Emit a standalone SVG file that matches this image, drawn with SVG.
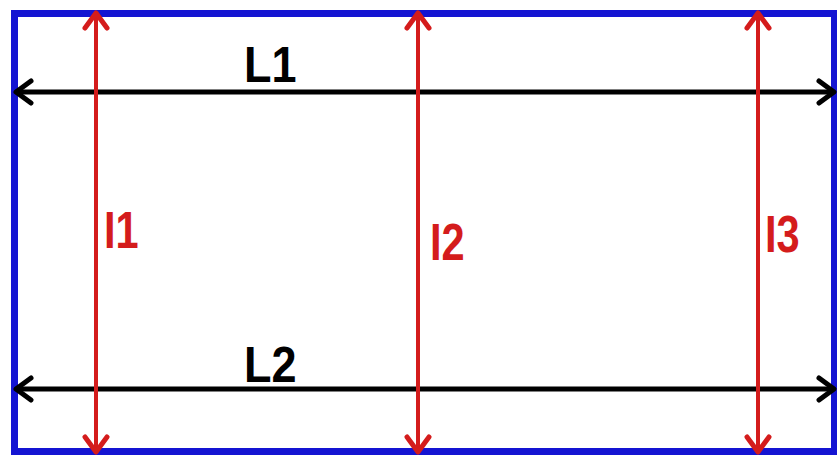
<svg xmlns="http://www.w3.org/2000/svg" width="837" height="455" viewBox="0 0 837 455">
<style>
.lab{font-family:"Liberation Sans",Arial,sans-serif;font-weight:bold}
.red{stroke:#d41c1c;stroke-width:4;fill:none}
.blk{stroke:#000;stroke-width:5;fill:none}
</style>
<defs>
<marker id="ar" viewBox="0 0 22 28" refX="19" refY="14" markerWidth="22" markerHeight="28" orient="auto-start-reverse" markerUnits="userSpaceOnUse">
<path d="M4,3 L19,14 L4,25" stroke="#d41c1c" stroke-width="5" fill="none" stroke-linecap="round" stroke-linejoin="round"/>
</marker>
<marker id="ab" viewBox="0 0 22 28" refX="19" refY="14" markerWidth="22" markerHeight="28" orient="auto-start-reverse" markerUnits="userSpaceOnUse">
<path d="M4,3 L19,14 L4,25" stroke="#000" stroke-width="5" fill="none" stroke-linecap="round" stroke-linejoin="round"/>
</marker>
</defs>
<rect x="14.5" y="13.5" width="820" height="438" fill="#fff" stroke="#1414d2" stroke-width="7"/>
<g id="connectors">
<path class="blk" d="M16,92 H834" style="marker-start:url(#ab);marker-end:url(#ab)"/>
<path class="blk" d="M16,389 H834" style="marker-start:url(#ab);marker-end:url(#ab)"/>
<path class="red" d="M96,13 V452" style="marker-start:url(#ar);marker-end:url(#ar)"/>
<path class="red" d="M418,13 V452" style="marker-start:url(#ar);marker-end:url(#ar)"/>
<path class="red" d="M758,13 V452" style="marker-start:url(#ar);marker-end:url(#ar)"/>
</g>
<g id="L1"><text class="lab" font-size="50" fill="#000" transform="translate(244,82) scale(0.9,1)">L1</text></g>
<g id="L2"><text class="lab" font-size="50" fill="#000" transform="translate(244,382) scale(0.9,1)">L2</text></g>
<g id="I1"><text class="lab" font-size="52" fill="#d41c1c" transform="translate(104,248) scale(0.8,1)">I1</text></g>
<g id="I2"><text class="lab" font-size="52" fill="#d41c1c" transform="translate(430,260) scale(0.8,1)">I2</text></g>
<g id="I3"><text class="lab" font-size="52" fill="#d41c1c" transform="translate(765,252) scale(0.8,1)">I3</text></g>
</svg>
